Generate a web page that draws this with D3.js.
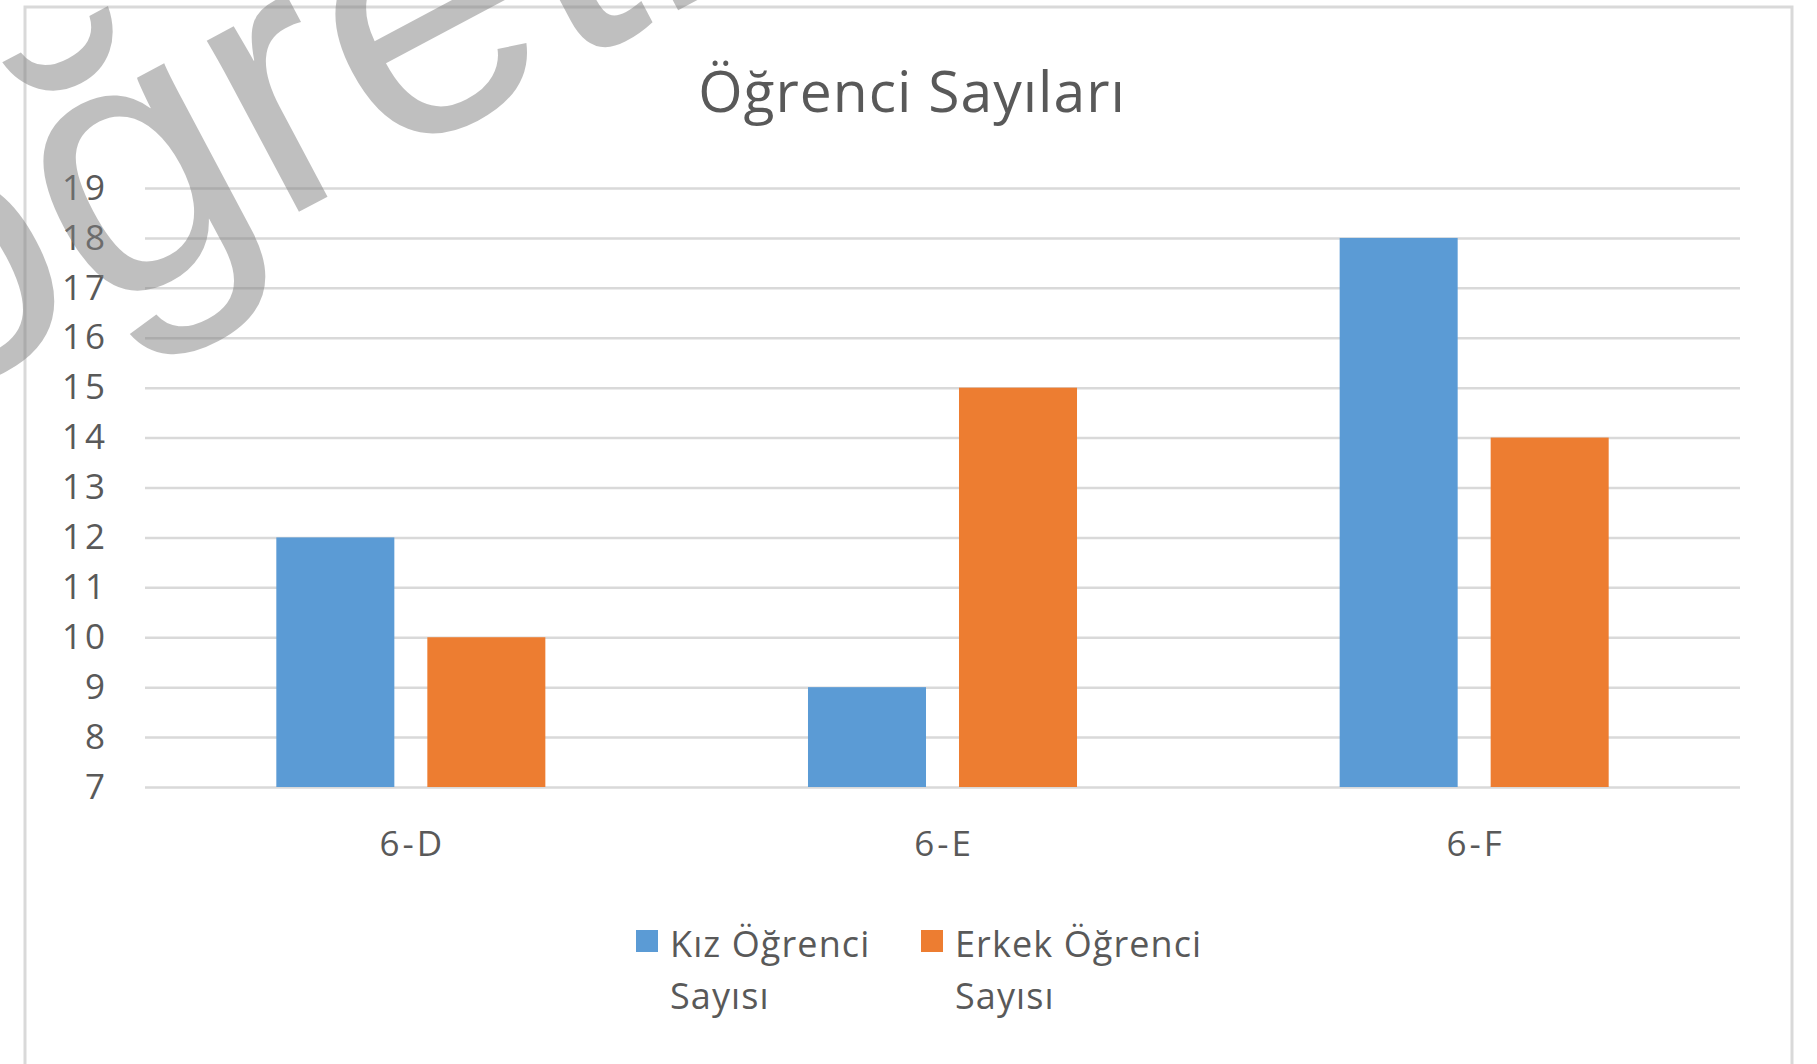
<!DOCTYPE html>
<html>
<head>
<meta charset="utf-8">
<script src="https://cdn.jsdelivr.net/npm/d3@7"></script>
<style>
  html, body { margin: 0; padding: 0; background: #fff; }
  svg { display: block; }
</style>
</head>
<body>
<svg width="1817" height="1064"></svg>
<script>
// chart values
const categories = ["6-D", "6-E", "6-F"];
const seriesNames = ["Kız Öğrenci Sayısı", "Erkek Öğrenci Sayısı"];
const kizValues = [12, 9, 18];
const erkekValues = [10, 15, 14];
const yTicks = [7, 8, 9, 10, 11, 12, 13, 14, 15, 16, 17, 18, 19];
const legendLines = [["Kız Öğrenci", "Sayısı"], ["Erkek Öğrenci", "Sayısı"]];
const titleText = "Öğrenci Sayıları";
const watermarkText = "öğretmen";

const colors = ["#5b9bd5", "#ed7d31"];
const textColor = "#595959";
const font = "'Open Sans', Lato, sans-serif";

const svg = d3.select("svg");
const margin = {top: 188, right: 77, bottom: 277, left: 145};
const width = +svg.attr("width") - margin.left - margin.right;
const height = 787 - margin.top;

// outer frame
svg.append("rect")
    .attr("x", 25).attr("y", 7)
    .attr("width", 1767).attr("height", 1080)
    .attr("fill", "#fff")
    .attr("stroke", "#d9d9d9")
    .attr("stroke-width", 3);

const g = svg.append("g").attr("transform", "translate(" + margin.left + "," + margin.top + ")");

const x0 = d3.scaleBand().domain(categories).range([0, width]);
const groupW = x0.bandwidth() * 0.506;
const x1 = d3.scaleBand().domain(d3.range(seriesNames.length))
    .range([(x0.bandwidth() - groupW) / 2, (x0.bandwidth() + groupW) / 2])
    .paddingInner(0.2185);
const y = d3.scaleLinear().domain([7, 19]).range([height, 0]);

// gridlines + y labels
const yAxis = g.append("g")
    .call(d3.axisLeft(y).tickValues(yTicks).tickSize(-width).tickPadding(37));
yAxis.select(".domain").remove();
yAxis.selectAll(".tick line").attr("stroke", "#d9d9d9").attr("stroke-width", 2.5);
yAxis.selectAll(".tick text")
    .attr("fill", textColor)
    .style("font-family", font)
    .style("font-size", "35px")
    .style("letter-spacing", "3px");

// x labels
const xAxis = g.append("g")
    .attr("transform", "translate(0," + height + ")")
    .call(d3.axisBottom(x0).tickSize(0).tickPadding(44));
xAxis.select(".domain").remove();
xAxis.selectAll(".tick text")
    .attr("fill", textColor)
    .attr("dx", "1.5px")
    .style("font-family", font)
    .style("font-size", "35px")
    .style("letter-spacing", "3px");

// bars
const rows = categories.map(function(c, i) { return {cat: c, values: [kizValues[i], erkekValues[i]]}; });
g.append("g").selectAll("g")
    .data(rows)
    .enter().append("g")
    .attr("transform", function(d) { return "translate(" + x0(d.cat) + ",0)"; })
  .selectAll("rect")
    .data(function(d) { return d.values.map(function(v, k) { return {k: k, v: v}; }); })
    .enter().append("rect")
    .attr("x", function(d) { return x1(d.k); })
    .attr("width", x1.bandwidth())
    .attr("y", function(d) { return y(d.v); })
    .attr("height", function(d) { return y(7) - y(d.v); })
    .attr("fill", function(d) { return colors[d.k]; });

// title
svg.append("text")
    .attr("x", 912).attr("y", 112)
    .attr("text-anchor", "middle")
    .attr("fill", textColor)
    .style("font-family", font)
    .style("font-size", "57px")
    .style("letter-spacing", "1px")
    .text(titleText);

// legend
const legendX = [636, 921];
const legend = svg.append("g").selectAll("g")
    .data(seriesNames)
    .enter().append("g")
    .attr("transform", function(d, i) { return "translate(" + legendX[i] + ",930)"; });
legend.append("rect")
    .attr("width", 22).attr("height", 22)
    .attr("fill", function(d, i) { return colors[i]; });
legend.append("text")
    .attr("fill", textColor)
    .style("font-family", font)
    .style("font-size", "36px")
    .style("letter-spacing", "1.1px")
    .selectAll("tspan")
    .data(function(d, i) { return legendLines[i]; })
    .enter().append("tspan")
    .attr("x", 34)
    .attr("y", function(d, j) { return 27 + j * 52; })
    .text(function(d) { return d; });

// watermark
svg.append("text")
    .attr("transform", "translate(-85,416) rotate(-28)")
    .attr("fill", "#808080")
    .attr("opacity", 0.5)
    .style("font-family", "'Liberation Sans', sans-serif")
    .style("font-size", "368px")
    .text(watermarkText);
</script>
</body>
</html>
